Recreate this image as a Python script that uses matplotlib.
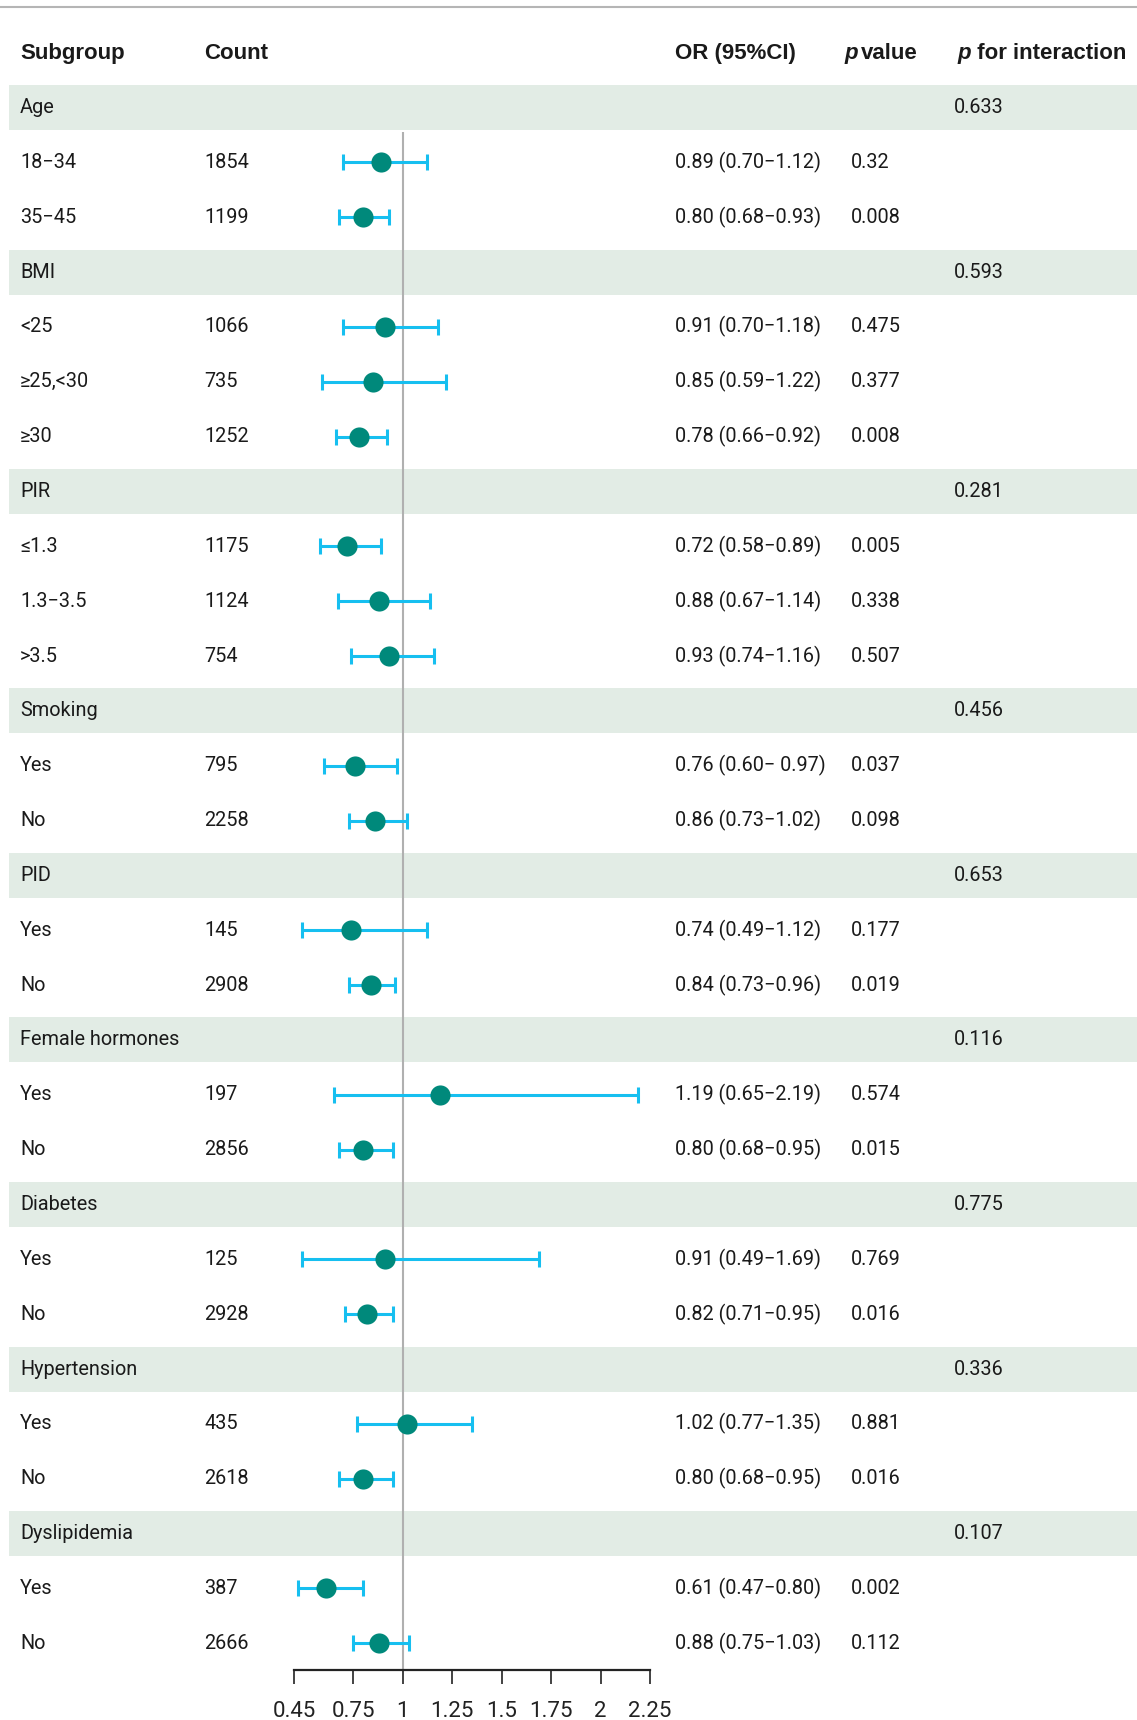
"""Subgroup forest plot, odds ratios with 95% CI
"""

import numpy as np
import matplotlib.pyplot as plt

plt.rcParams['font.family'] = ['Roboto', 'DejaVu Sans']

# ---- data ----
groups = ['Age', 'BMI', 'PIR', 'Smoking', 'PID', 'Female hormones',
          'Diabetes', 'Hypertension', 'Dyslipidemia']
p_interaction = ['0.633', '0.593', '0.281', '0.456', '0.653', '0.116',
                 '0.775', '0.336', '0.107']
levels = [['18−34', '35−45'],
          ['<25', '≥25,<30', '≥30'],
          ['≤1.3', '1.3−3.5', '>3.5'],
          ['Yes', 'No'], ['Yes', 'No'], ['Yes', 'No'],
          ['Yes', 'No'], ['Yes', 'No'], ['Yes', 'No']]
counts = [[1854, 1199],
          [1066, 735, 1252],
          [1175, 1124, 754],
          [795, 2258], [145, 2908], [197, 2856],
          [125, 2928], [435, 2618], [387, 2666]]
odds = [[0.89, 0.80],
        [0.91, 0.85, 0.78],
        [0.72, 0.88, 0.93],
        [0.76, 0.86], [0.74, 0.84], [1.19, 0.80],
        [0.91, 0.82], [1.02, 0.80], [0.61, 0.88]]
ci_low = [[0.70, 0.68],
          [0.70, 0.59, 0.66],
          [0.58, 0.67, 0.74],
          [0.60, 0.73], [0.49, 0.73], [0.65, 0.68],
          [0.49, 0.71], [0.77, 0.68], [0.47, 0.75]]
ci_high = [[1.12, 0.93],
           [1.18, 1.22, 0.92],
           [0.89, 1.14, 1.16],
           [0.97, 1.02], [1.12, 0.96], [2.19, 0.95],
           [1.69, 0.95], [1.35, 0.95], [0.80, 1.03]]
or_text = [['0.89 (0.70−1.12)', '0.80 (0.68−0.93)'],
           ['0.91 (0.70−1.18)', '0.85 (0.59−1.22)', '0.78 (0.66−0.92)'],
           ['0.72 (0.58−0.89)', '0.88 (0.67−1.14)', '0.93 (0.74−1.16)'],
           ['0.76 (0.60− 0.97)', '0.86 (0.73−1.02)'],
           ['0.74 (0.49−1.12)', '0.84 (0.73−0.96)'],
           ['1.19 (0.65−2.19)', '0.80 (0.68−0.95)'],
           ['0.91 (0.49−1.69)', '0.82 (0.71−0.95)'],
           ['1.02 (0.77−1.35)', '0.80 (0.68−0.95)'],
           ['0.61 (0.47−0.80)', '0.88 (0.75−1.03)']]
p_values = [['0.32', '0.008'],
            ['0.475', '0.377', '0.008'],
            ['0.005', '0.338', '0.507'],
            ['0.037', '0.098'], ['0.177', '0.019'], ['0.574', '0.015'],
            ['0.769', '0.016'], ['0.881', '0.016'], ['0.002', '0.112']]
x_ticks = [0.45, 0.75, 1, 1.25, 1.5, 1.75, 2, 2.25]
x_ticklabels = ['0.45', '0.75', '1', '1.25', '1.5', '1.75', '2', '2.25']

# ---- layout (pixels of a 1137x1720 canvas) ----
W, H = 1137, 1720
ROW0, ROWH = 107.5, 54.85        # centre of first row, row pitch
AXIS_Y = 1670                    # forest x-axis line
X_LEFT, X_RIGHT = 294, 650       # pixel positions of 0.45 and 2.25
COL_X = [20, 204, 675, 851, 954]
TEXT_C = '#1a1a1a'
BAND_C = '#e2ece5'
DOT_C = '#00897b'
BAR_C = '#16bff0'
FS = 14.3
HEAD_FONT = ['Liberation Sans', 'DejaVu Sans']


def px2row(y):
    return (y - ROW0) / ROWH


fig = plt.figure(figsize=(W / 100, H / 100), dpi=100)

# background axes for the table
bg = fig.add_axes([0, 0, 1, 1])
bg.set_xlim(0, W)
bg.set_ylim(px2row(H), px2row(0))
bg.axis('off')

# forest axes
fx = fig.add_axes([X_LEFT / W, (H - AXIS_Y) / H, (X_RIGHT - X_LEFT) / W, AXIS_Y / H])
fx.set_xlim(0.45, 2.25)
fx.set_ylim(px2row(AXIS_Y), px2row(0))
fx.patch.set_alpha(0)
for s in ['top', 'left', 'right']:
    fx.spines[s].set_visible(False)
fx.spines['bottom'].set_linewidth(1.6)
fx.spines['bottom'].set_color('#222222')
fx.set_yticks([])
fx.set_xticks(x_ticks)
fx.set_xticklabels(x_ticklabels)
fx.tick_params(axis='x', direction='out', length=10, width=1.2, pad=12,
               labelsize=16, colors='#222222')

# top rule
bg.axhline(px2row(7), color='#b5b5b5', lw=1.5)

# header
hy = px2row(53)
hkw = dict(fontsize=16, fontweight='bold', color=TEXT_C, va='center', ha='left',
           family=HEAD_FONT)
bg.text(COL_X[0], hy, 'Subgroup', **hkw)
bg.text(COL_X[1], hy, 'Count', **hkw)
bg.text(COL_X[2], hy, 'OR (95%CI)', **hkw)
p1 = bg.text(COL_X[3] - 7, hy, 'p', style='italic', **hkw)
bg.annotate('value', xy=(1, 0), xycoords=p1, xytext=(2.5, 0),
            textcoords='offset points', fontsize=16, fontweight='bold',
            color=TEXT_C, va='bottom', ha='left', family=HEAD_FONT)
p2 = bg.text(COL_X[4] + 3, hy, 'p', style='italic', **hkw)
bg.annotate(' for interaction', xy=(1, 0), xycoords=p2, xytext=(0.5, 0),
            textcoords='offset points', fontsize=16, fontweight='bold',
            color=TEXT_C, va='bottom', ha='left', family=HEAD_FONT)

# rows
tkw = dict(fontsize=FS, color=TEXT_C, va='center', ha='left')
row = 0
for g, name in enumerate(groups):
    bg.axhspan(row - 0.41, row + 0.41, xmin=9 / W, xmax=1, color=BAND_C, lw=0, zorder=0)
    bg.text(COL_X[0], row, name, **tkw)
    bg.text(COL_X[4], row, p_interaction[g], **tkw)
    row += 1
    for k, lab in enumerate(levels[g]):
        bg.text(COL_X[0], row, lab, **tkw)
        bg.text(COL_X[1], row, str(counts[g][k]), **tkw)
        bg.text(COL_X[2], row, or_text[g][k], **tkw)
        bg.text(COL_X[3], row, p_values[g][k], **tkw)
        o = odds[g][k]
        fx.errorbar(o, row, xerr=[[o - ci_low[g][k]], [ci_high[g][k] - o]],
                    fmt='none', ecolor=BAR_C, elinewidth=2.2, capsize=5.5,
                    capthick=2.2, zorder=3)
        fx.plot(o, row, 'o', color=DOT_C, ms=14.5, mec='none', zorder=4)
        row += 1

# reference line at OR = 1
fx.vlines(1, px2row(132), px2row(AXIS_Y), color='#b0b0b0', lw=1.5, zorder=2)

fig.savefig('out.png', dpi=100)
